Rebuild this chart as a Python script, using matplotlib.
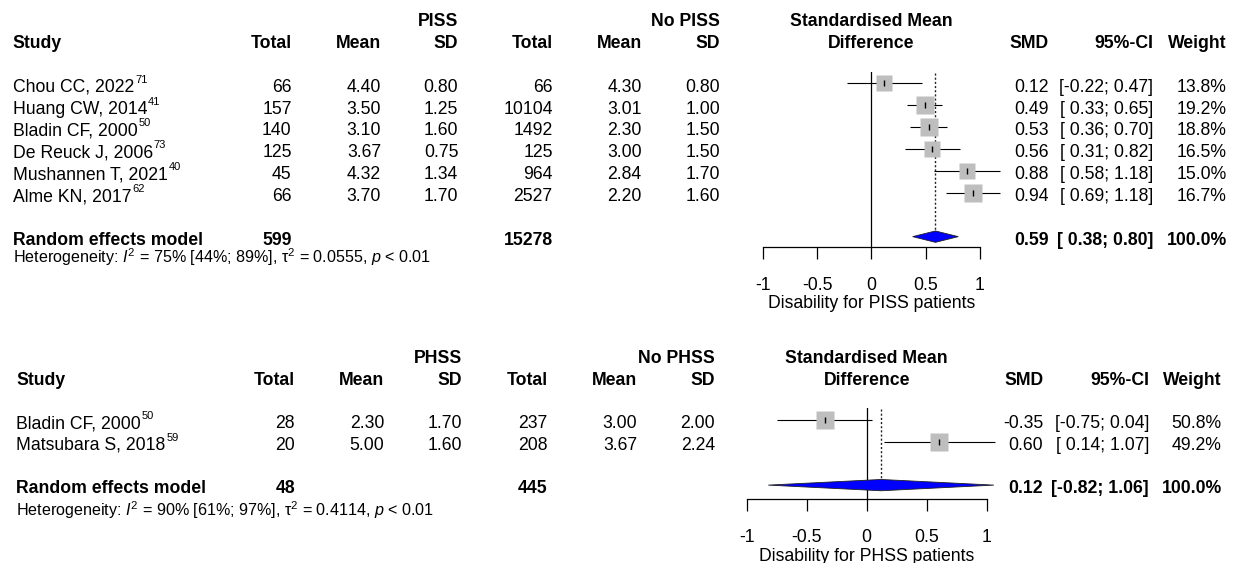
import matplotlib
matplotlib.use('Agg')
import matplotlib.pyplot as plt
from matplotlib.patches import Polygon
from matplotlib.transforms import blended_transform_factory
import numpy as np

plt.rcParams['font.family'] = 'Liberation Sans'
plt.rcParams['axes.unicode_minus'] = False
plt.rcParams['mathtext.fontset'] = 'custom'
plt.rcParams['mathtext.rm'] = 'Liberation Sans'
plt.rcParams['mathtext.it'] = 'Liberation Sans:italic'
plt.rcParams['mathtext.bf'] = 'Liberation Sans:bold'

W, H = 1239, 563
FS = 12.7
FS_HET = 11.6
FS_SUP = 8

# ---- PISS ----
piss_study = ["Chou CC, 2022", "Huang CW, 2014", "Bladin CF, 2000",
              "De Reuck J, 2006", "Mushannen T, 2021", "Alme KN, 2017"]
piss_ref = ["71", "41", "50", "73", "40", "62"]
piss_n = [66, 157, 140, 125, 45, 66]
piss_mean = [4.40, 3.50, 3.10, 3.67, 4.32, 3.70]
piss_sd = [0.80, 1.25, 1.60, 0.75, 1.34, 1.70]
nopiss_n = [66, 10104, 1492, 125, 964, 2527]
nopiss_mean = [4.30, 3.01, 2.30, 3.00, 2.84, 2.20]
nopiss_sd = [0.80, 1.00, 1.50, 1.50, 1.70, 1.60]
piss_smd = [0.12, 0.49, 0.53, 0.56, 0.88, 0.94]
piss_lo = [-0.22, 0.33, 0.36, 0.31, 0.58, 0.69]
piss_hi = [0.47, 0.65, 0.70, 0.82, 1.18, 1.18]
piss_w = [13.8, 19.2, 18.8, 16.5, 15.0, 16.7]
piss_pooled = [0.59, 0.38, 0.80]
piss_tot = [599, 15278]
piss_het = r"Heterogeneity: $I^2$ = 75% [44%; 89%], $\mathrm{\tau}^2$ = 0.0555, $p$ < 0.01"

# ---- PHSS ----
phss_study = ["Bladin CF, 2000", "Matsubara S, 2018"]
phss_ref = ["50", "59"]
phss_n = [28, 20]
phss_mean = [2.30, 5.00]
phss_sd = [1.70, 1.60]
nophss_n = [237, 208]
nophss_mean = [3.00, 3.67]
nophss_sd = [2.00, 2.24]
phss_smd = [-0.35, 0.60]
phss_lo = [-0.75, 0.14]
phss_hi = [0.04, 1.07]
phss_w = [50.8, 49.2]
phss_pooled = [0.12, -0.82, 1.06]
phss_tot = [48, 445]
phss_het = r"Heterogeneity: $I^2$ = 90% [61%; 97%], $\mathrm{\tau}^2$ = 0.4114, $p$ < 0.01"

fig = plt.figure(figsize=(W / 100, H / 100), dpi=100)


def forest(box, ylim, cols, grp, study, ref, n1, m1, s1, n2, m2, s2,
           smd, lo, hi, w, pooled, tot, het, het_row, xlabel):
    left, top, right, bottom = box
    ax = fig.add_axes([left / W, 1 - bottom / H, (right - left) / W, (bottom - top) / H])
    ax.set_xlim(-1, 1)
    ax.set_ylim(*ylim)
    ax.patch.set_alpha(0)
    for s in ['top', 'left', 'right']:
        ax.spines[s].set_visible(False)
    ax.spines['bottom'].set_linewidth(0.9)
    ax.set_yticks([])
    ax.set_xticks([-1, -0.5, 0, 0.5, 1])
    ax.set_xticklabels(['-1', '-0.5', '0', '0.5', '1'])
    ax.tick_params(axis='x', direction='out', length=8.4, width=0.9, pad=13.3, labelsize=FS)
    ax.set_xlabel(xlabel, fontsize=FS, labelpad=1.2)

    tr = blended_transform_factory(fig.transFigure, ax.transData)

    def txt(x, y, s, ha='right', bold=False, size=FS):
        return ax.text(x / W, y, s, transform=tr, ha=ha, va='baseline', fontsize=size,
                       fontweight='bold' if bold else 'normal')

    k = len(study)
    rows = np.arange(k)
    re_row = k + 1
    off = 0.38

    # headers
    txt(cols['sd1'], -2.62, grp, bold=True)
    txt(cols['sd2'], -2.62, 'No ' + grp, bold=True)
    txt(cols['study'], -1.6, 'Study', ha='left', bold=True)
    for c, lab in zip(['n1', 'm1', 'sd1', 'n2', 'm2', 'sd2', 'smd', 'ci', 'w'],
                      ['Total', 'Mean', 'SD', 'Total', 'Mean', 'SD', 'SMD', '95%-CI', 'Weight']):
        txt(cols[c], -1.6, lab, bold=True)
    ax.text(0, -2.62, 'Standardised Mean', ha='center', va='baseline', fontsize=FS, fontweight='bold')
    ax.text(0, -1.6, 'Difference', ha='center', va='baseline', fontsize=FS, fontweight='bold')

    # study rows
    for i in range(k):
        y = rows[i] + off
        t = txt(cols['study'], y, study[i], ha='left')
        ax.annotate(ref[i], xy=(1, 1), xycoords=t, xytext=(1, 4), textcoords='offset pixels',
                    ha='left', va='top', fontsize=FS_SUP)
        txt(cols['n1'], y, f"{n1[i]}")
        txt(cols['m1'], y, f"{m1[i]:.2f}")
        txt(cols['sd1'], y, f"{s1[i]:.2f}")
        txt(cols['n2'], y, f"{n2[i]}")
        txt(cols['m2'], y, f"{m2[i]:.2f}")
        txt(cols['sd2'], y, f"{s2[i]:.2f}")
        txt(cols['smd'], y, f"{smd[i]:.2f}")
        txt(cols['ci'], y, f"[{lo[i]:5.2f}; {hi[i]:4.2f}]")
        txt(cols['w'], y, f"{w[i]:.1f}%")

    # pooled row
    y = re_row + off
    txt(cols['study'], y, 'Random effects model', ha='left', bold=True)
    txt(cols['n1'], y, f"{tot[0]}", bold=True)
    txt(cols['n2'], y, f"{tot[1]}", bold=True)
    txt(cols['smd'], y, f"{pooled[0]:.2f}", bold=True)
    txt(cols['ci'], y, f"[{pooled[1]:5.2f}; {pooled[2]:4.2f}]", bold=True)
    txt(cols['w'], y, "100.0%", bold=True)
    txt(cols['study'], het_row, het, ha='left', size=FS_HET)

    # forest marks
    ax.axvline(0, color='black', lw=0.9, zorder=1)
    h = 0.26
    ax.vlines(pooled[0], ylim[1] + 0.05, re_row - h, color='#222222', lw=1.0,
              linestyles=(0, (1.5, 1.5)), zorder=1)
    ax.hlines(rows, lo, hi, color='black', lw=0.8, zorder=2, clip_on=False)
    side = 18.3 * np.sqrt(np.array(w) / max(w)) * 0.72
    for i in range(k):
        ax.plot(smd[i], rows[i], marker='s', ms=side[i], color='#BEBEBE', mec='none',
                zorder=3, clip_on=False)
    ax.plot(smd, rows, ls='none', marker='|', ms=3.8, mew=1.0, color='black', zorder=4)
    dia = Polygon([(pooled[1], re_row), (pooled[0], re_row - h), (pooled[2], re_row),
                   (pooled[0], re_row + h)], closed=True, facecolor='#0000FF',
                  edgecolor='#202020', lw=0.6, zorder=3, clip_on=False)
    ax.add_patch(dia)
    return ax


cols1 = dict(study=12.7, n1=291.7, m1=381, sd1=458.3, n2=552.7, m2=641.7, sd2=720,
             smd=1048.3, ci=1153.3, w=1226.7)
cols2 = dict(study=16, n1=295, m1=384.3, sd1=461.7, n2=547.7, m2=637.3, sd2=715,
             smd=1043.3, ci=1149, w=1221.7)

forest((762.7, 71.7, 980, 246.5), (7.45, -0.53), cols1, 'PISS',
       piss_study, piss_ref, piss_n, piss_mean, piss_sd, nopiss_n, nopiss_mean, nopiss_sd,
       piss_smd, piss_lo, piss_hi, piss_w, piss_pooled, piss_tot, piss_het, 8.22,
       'Disability for PISS patients')

forest((746.7, 408.3, 986.7, 499), (3.64, -0.54), cols2, 'PHSS',
       phss_study, phss_ref, phss_n, phss_mean, phss_sd, nophss_n, nophss_mean, nophss_sd,
       phss_smd, phss_lo, phss_hi, phss_w, phss_pooled, phss_tot, phss_het, 4.41,
       'Disability for PHSS patients')

fig.savefig('out.png', dpi=100)
